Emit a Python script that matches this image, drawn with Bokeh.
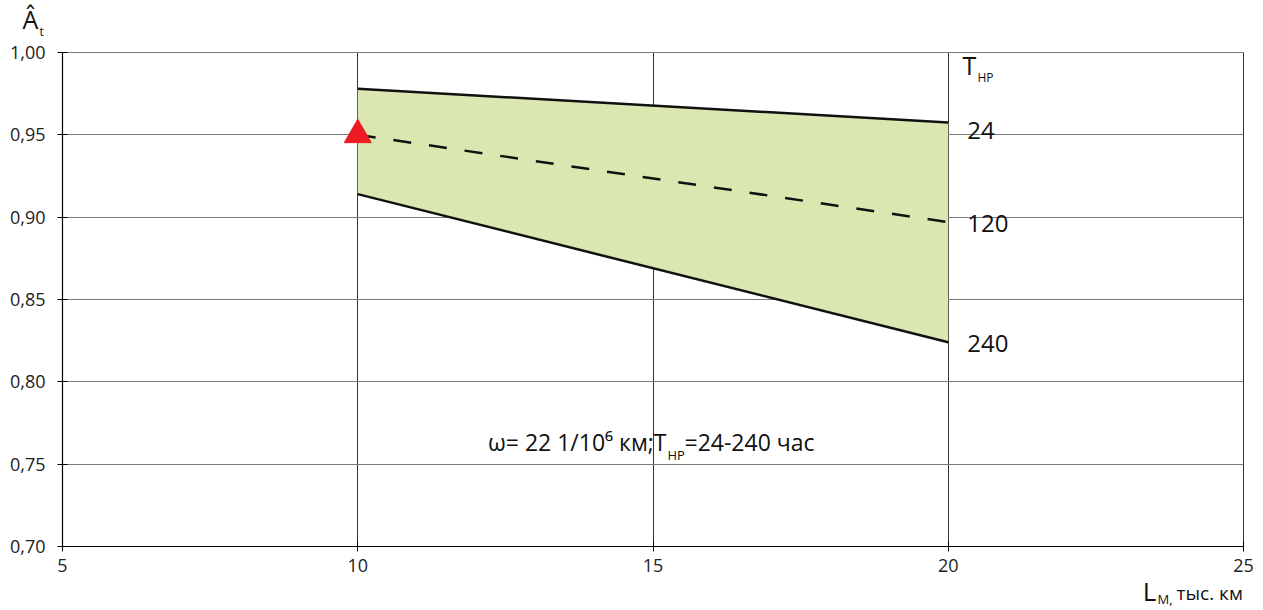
from bokeh.plotting import figure
from bokeh.models import Label, FixedTicker, Range1d, ColumnDataSource
from bokeh.embed import file_html
from bokeh.resources import INLINE
from bokeh.core.properties import value

# ---- data ----
x_pts = [10, 20]
upper_24 = [0.978, 0.9575]
mid_120 = [0.950, 0.897]
lower_240 = [0.914, 0.824]
marker_x = [10]
marker_y = [0.95]
curve_labels = ["24", "120", "240"]
curve_ends = [upper_24[-1], mid_120[-1], lower_240[-1]]
x_ticks = [5, 10, 15, 20, 25]
y_ticks = [0.70, 0.75, 0.80, 0.85, 0.90, 0.95, 1.00]
y_tick_labels = ["0,70", "0,75", "0,80", "0,85", "0,90", "0,95", "1,00"]

FONT = "Open Sans"
W, H = 1263, 610
# plot area in page pixels
L_PX, R_PX, T_PX, B_PX = 62, 1243, 52, 546
x0, x1 = x_ticks[0], x_ticks[-1]
y0, y1 = y_ticks[0], y_ticks[-1]
sx = (R_PX - L_PX) / (x1 - x0)
sy = (B_PX - T_PX) / (y1 - y0)

p = figure(width=W, height=H, output_backend="svg", toolbar_location=None,
           x_range=Range1d(x0 - L_PX / sx, x1 + (W - R_PX) / sx),
           y_range=Range1d(y0 - (H - B_PX) / sy, y1 + T_PX / sy),
           min_border_left=0, min_border_right=0, min_border_top=0, min_border_bottom=0)
p.title.visible = False
p.background_fill_color = "white"
p.border_fill_color = "white"
p.outline_line_color = None

# axes (fixed inside the frame so text outside the plot area stays visible)
p.xaxis.fixed_location = y0
p.yaxis.fixed_location = x0
p.xaxis.bounds = (x0, x1)
p.yaxis.bounds = (y0, y1)
for ax in (p.xaxis, p.yaxis):
    ax.axis_line_color = "black"
    ax.axis_line_width = 1.2
    ax.major_tick_line_color = "black"
    ax.major_tick_in = 5
    ax.major_tick_out = 5
    ax.minor_tick_line_color = None
    ax.major_label_text_font = FONT
    ax.major_label_text_font_size = "18px"
    ax.major_label_text_color = "#222222"
p.xaxis.ticker = FixedTicker(ticks=x_ticks)
p.yaxis.ticker = FixedTicker(ticks=y_ticks)
p.yaxis.major_label_overrides = {t: s for t, s in zip(y_ticks, y_tick_labels)}
p.xaxis.major_label_standoff = 7
p.yaxis.major_label_standoff = 12

p.xgrid.grid_line_color = "#333333"
p.xgrid.grid_line_width = 1
p.xgrid.cross_bounds = (y0, y1)
p.ygrid.grid_line_color = "#7a7a7a"
p.ygrid.grid_line_width = 1
p.ygrid.cross_bounds = (x0, x1)

# shaded band
p.varea(x=x_pts, y1=lower_240, y2=upper_24, fill_color="#dbe7b0", fill_alpha=1.0)

p.line(x_pts, upper_24, line_color="#111111", line_width=2.5)
p.line(x_pts, lower_240, line_color="#111111", line_width=2.5)
p.line(x_pts, mid_120, line_color="#111111", line_width=2.5, line_dash="18 18")

p.scatter(marker_x, marker_y, marker="triangle", size=27, fill_color="#ed1c24",
          line_color="#ed1c24")

# curve labels
src = ColumnDataSource(dict(x=[x_pts[-1]] * 3, y=curve_ends, t=curve_labels, dy=[8, 1, 1]))
p.text(x="x", y="y", text="t", source=src, x_offset=19, y_offset="dy",
       text_font=value(FONT), text_font_size="24px", text_baseline="middle",
       text_color="#111111")

def lab(px, py, t, size, align="left"):
    # px, py: page pixel position of the text anchor
    p.add_layout(Label(x=x0 + (px - L_PX) / sx, y=y1 - (py - T_PX) / sy, text=t,
                       text_font=FONT, text_font_size=size,
                       text_align=align, text_baseline="middle", text_color="#111111"))

# T_HP legend title
lab(962, 64, "T", "25px")
lab(977, 77, "HP", "12px")

# annotation
lab(666, 441, "ω= 22 1/10⁶ км;T", "23px", "right")
lab(667, 454, "HP", "13px")
lab(684, 441, "=24-240 час", "23px")

# axis labels
lab(30, 18, "Â", "25px", "center")
lab(39, 31, "t", "12px")
lab(1149, 590, "L", "26px", "center")
lab(1157, 598, "M,", "13px")
lab(1176, 592, "тыс. км", "19px")

open("out.html", "w").write(file_html(p, INLINE))
